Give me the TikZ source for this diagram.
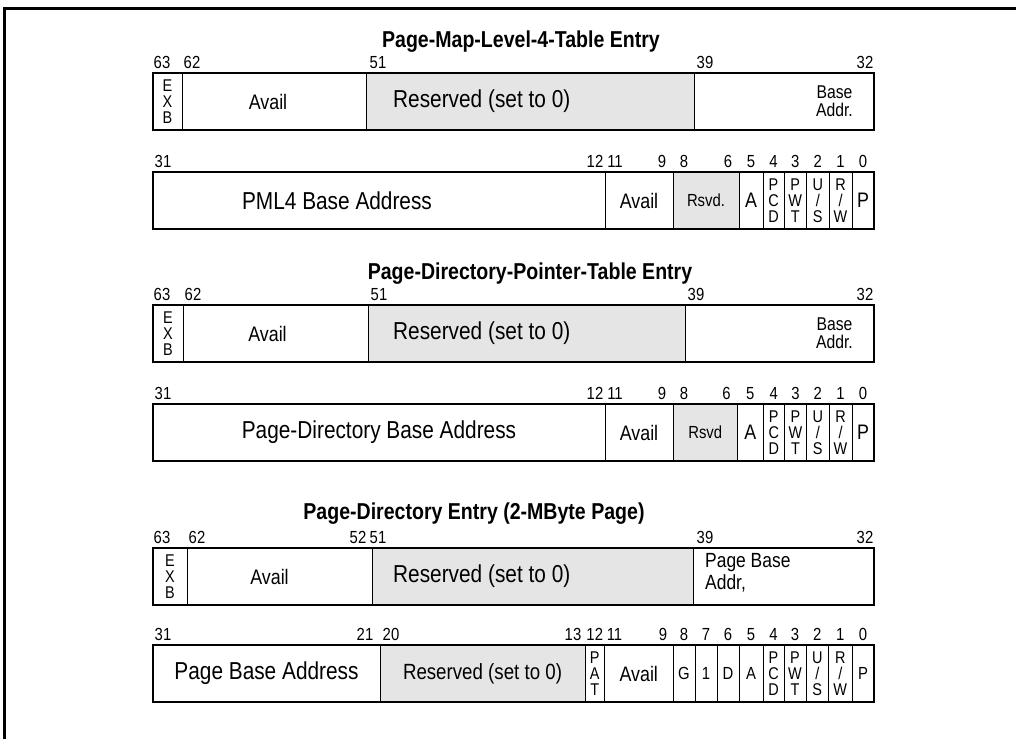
\documentclass[tikz,border=0pt]{standalone}
\usepackage{fontspec}
\setmainfont[FakeStretch=0.85]{Liberation Sans}
\usepackage{xcolor}
\usetikzlibrary{positioning}
\definecolor{rsvgray}{RGB}{229,229,229}
\newcommand{\fs}[1]{\fontsize{#1}{#1}\selectfont}

\begin{document}
\begin{tikzpicture}[x=1pt, y=-1pt,
    fld/.style={rectangle, draw, line width=0.9pt, minimum height=57pt, inner sep=0pt, outer sep=0pt, font=\fs{21}},
    rsv/.style={fld, fill=rsvgray},
    stk/.style={fld, align=center, font=\fontsize{17}{16}\selectfont},
    sml/.style={fld, font=\fs{17.5}},
    big/.style={font=\fs{24.5}, inner sep=0pt},
    box/.style={draw, line width=2.6pt},
    bit/.style={anchor=base, inner sep=0pt, yshift=5pt, font=\fs{17.5}},
    ttl/.style={font=\bfseries\fs{23}}
]
    \useasboundingbox (0,0) rectangle (1016,739);
    \draw[line width=3pt] (4,739) -- (4,8) -- (1016,8);

    % PML4 entry
    \node[ttl] (t1) at (521,42) {Page-Map-Level-4-Table Entry};
    \node[stk, minimum width=29pt, anchor=north west] (exb1) at (153,73) {E\\X\\B};
    \node[fld, minimum width=184pt, right=0pt of exb1] (avl1) {};
    \node[font=\fs{21}, inner sep=0pt] (avl1t) at ([xshift=-6pt]avl1.center) {Avail};
    \node[rsv, minimum width=328pt, right=0pt of avl1] (res1) {};
    \node[big, anchor=west] (res1t) at ([xshift=27pt]res1.west) {Reserved (set to 0)};
    \node[fld, minimum width=180pt, right=0pt of res1] (base1) {};
    \node[align=center, font=\fontsize{18.5}{18}\selectfont, anchor=east, inner sep=0pt] (base1t) at ([xshift=-21pt]base1.east) {Base\\Addr.};
    \draw[box] (exb1.north west) rectangle (base1.south east);
    \node[bit] (l63a) at ([xshift=9pt]exb1.north west) {63};
    \node[bit] (l62a) at ([xshift=10pt]avl1.north west) {62};
    \node[bit] (l51a) at ([xshift=12pt]res1.north west) {51};
    \node[bit] (l39a) at ([xshift=11pt]base1.north west) {39};
    \node[bit] (l32a) at ([xshift=-9pt]base1.north east) {32};

    \node[fld, minimum width=452pt, anchor=north west] (pml2) at (153,172) {};
    \node[big] (pml2t) at ([xshift=-42pt]pml2.center) {PML4 Base Address};
    \node[fld, minimum width=68pt, right=0pt of pml2] (avl2) {Avail};
    \node[rsv, minimum width=66pt, font=\fs{17.5}, right=0pt of avl2] (rsv2) {Rsvd.};
    \node[fld, minimum width=24pt, right=0pt of rsv2] (a2) {A};
    \node[stk, minimum width=21pt, right=0pt of a2] (pcd2) {P\\C\\D};
    \node[stk, minimum width=22.5pt, right=0pt of pcd2] (pwt2) {P\\W\\T};
    \node[stk, minimum width=22.5pt, right=0pt of pwt2] (us2) {U\\/\\S};
    \node[stk, minimum width=23pt, right=0pt of us2] (rw2) {R\\/\\W};
    \node[fld, minimum width=22pt, right=0pt of rw2] (p2) {P};
    \draw[box] (pml2.north west) rectangle (p2.south east);
    \node[bit] (l31b) at ([xshift=10pt]pml2.north west) {31};
    \node[bit] (l12b) at ([xshift=-10pt]pml2.north east) {12};
    \node[bit] (l11b) at ([xshift=10pt]avl2.north west) {11};
    \node[bit] (l9b) at ([xshift=-11pt]avl2.north east) {9};
    \node[bit] (l8b) at ([xshift=11pt]rsv2.north west) {8};
    \node[bit] (l6b) at ([xshift=-11pt]rsv2.north east) {6};
    \foreach \f/\n in {a2/5, pcd2/4, pwt2/3, us2/2, rw2/1, p2/0}
        \node[bit] (l\f) at (\f.north) {\n};

    % PDP entry
    \node[ttl] (t2) at (530,274) {Page-Directory-Pointer-Table Entry};
    \node[stk, minimum width=30pt, anchor=north west] (exb3) at (153,305) {E\\X\\B};
    \node[fld, minimum width=185pt, right=0pt of exb3] (avl3) {};
    \node[font=\fs{21}, inner sep=0pt] (avl3t) at ([xshift=-8pt]avl3.center) {Avail};
    \node[rsv, minimum width=317pt, right=0pt of avl3] (res3) {};
    \node[big, anchor=west] (res3t) at ([xshift=25pt]res3.west) {Reserved (set to 0)};
    \node[fld, minimum width=189pt, right=0pt of res3] (base3) {};
    \node[align=center, font=\fontsize{18.5}{18}\selectfont, anchor=east, inner sep=0pt] (base3t) at ([xshift=-21pt]base3.east) {Base\\Addr.};
    \draw[box] (exb3.north west) rectangle (base3.south east);
    \node[bit] (l63c) at ([xshift=9pt]exb3.north west) {63};
    \node[bit] (l62c) at ([xshift=10pt]avl3.north west) {62};
    \node[bit] (l51c) at ([xshift=11pt]res3.north west) {51};
    \node[bit] (l39c) at ([xshift=11pt]base3.north west) {39};
    \node[bit] (l32c) at ([xshift=-9pt]base3.north east) {32};

    \node[fld, minimum width=452pt, anchor=north west] (pdba4) at (153,404) {};
    \node[big] (pdba4t) at (pdba4.center) {Page-Directory Base Address};
    \node[fld, minimum width=68pt, right=0pt of pdba4] (avl4) {Avail};
    \node[rsv, minimum width=64.5pt, font=\fs{17.5}, right=0pt of avl4] (rsv4) {Rsvd};
    \node[fld, minimum width=25.5pt, right=0pt of rsv4] (a4) {A};
    \node[stk, minimum width=21.5pt, right=0pt of a4] (pcd4) {P\\C\\D};
    \node[stk, minimum width=22pt, right=0pt of pcd4] (pwt4) {P\\W\\T};
    \node[stk, minimum width=22.5pt, right=0pt of pwt4] (us4) {U\\/\\S};
    \node[stk, minimum width=23pt, right=0pt of us4] (rw4) {R\\/\\W};
    \node[fld, minimum width=22pt, right=0pt of rw4] (p4) {P};
    \draw[box] (pdba4.north west) rectangle (p4.south east);
    \node[bit] (l31d) at ([xshift=10pt]pdba4.north west) {31};
    \node[bit] (l12d) at ([xshift=-10pt]pdba4.north east) {12};
    \node[bit] (l11d) at ([xshift=10pt]avl4.north west) {11};
    \node[bit] (l9d) at ([xshift=-11pt]avl4.north east) {9};
    \node[bit] (l8d) at ([xshift=11pt]rsv4.north west) {8};
    \node[bit] (l6d) at ([xshift=-11pt]rsv4.north east) {6};
    \foreach \f/\n in {a4/5, pcd4/4, pwt4/3, us4/2, rw4/1, p4/0}
        \node[bit] (l\f) at (\f.north) {\n};

    % PD entry, 2-MByte page
    \node[ttl] (t3) at (474,514) {Page-Directory Entry (2-MByte Page)};
    \node[stk, minimum width=34pt, anchor=north west] (exb5) at (153,548) {E\\X\\B};
    \node[fld, minimum width=185pt, right=0pt of exb5] (avl5) {};
    \node[font=\fs{21}, inner sep=0pt] (avl5t) at ([xshift=-10pt]avl5.center) {Avail};
    \node[rsv, minimum width=321pt, right=0pt of avl5] (res5) {};
    \node[big, anchor=west] (res5t) at ([xshift=21pt]res5.west) {Reserved (set to 0)};
    \node[fld, minimum width=181pt, right=0pt of res5] (base5) {};
    \node[align=left, font=\fontsize{20.5}{22}\selectfont, anchor=west, inner sep=0pt] (base5t) at ([xshift=12pt,yshift=4pt]base5.west) {Page Base\\Addr,};
    \draw[box] (exb5.north west) rectangle (base5.south east);
    \node[bit] (l63e) at ([xshift=9pt]exb5.north west) {63};
    \node[bit] (l62e) at ([xshift=10pt]avl5.north west) {62};
    \node[bit] (l52e) at ([xshift=-14pt]avl5.north east) {52};
    \node[bit] (l51e) at ([xshift=6pt]res5.north west) {51};
    \node[bit] (l39e) at ([xshift=12pt]base5.north west) {39};
    \node[bit] (l32e) at ([xshift=-9pt]base5.north east) {32};

    \node[fld, minimum width=227pt, font=\fs{24.5}, anchor=north west] (pba6) at (153,645) {Page Base Address};
    \node[rsv, minimum width=205pt, font=\fs{22}, right=0pt of pba6] (res6) {Reserved (set to 0)};
    \node[stk, minimum width=19.5pt, right=0pt of res6] (pat6) {P\\A\\T};
    \node[fld, minimum width=68.5pt, right=0pt of pat6] (avl6) {Avail};
    \node[sml, minimum width=22pt, right=0pt of avl6] (g6) {G};
    \node[sml, minimum width=22pt, right=0pt of g6] (one6) {1};
    \node[sml, minimum width=22pt, right=0pt of one6] (d6) {D};
    \node[sml, minimum width=24pt, right=0pt of d6] (a6) {A};
    \node[stk, minimum width=21pt, right=0pt of a6] (pcd6) {P\\C\\D};
    \node[stk, minimum width=22pt, right=0pt of pcd6] (pwt6) {P\\W\\T};
    \node[stk, minimum width=22.5pt, right=0pt of pwt6] (us6) {U\\/\\S};
    \node[stk, minimum width=23.5pt, right=0pt of us6] (rw6) {R\\/\\W};
    \node[sml, minimum width=22pt, right=0pt of rw6] (p6) {P};
    \draw[box] (pba6.north west) rectangle (p6.south east);
    \node[bit] (l31f) at ([xshift=10pt]pba6.north west) {31};
    \node[bit] (l21f) at ([xshift=-15pt]pba6.north east) {21};
    \node[bit] (l20f) at ([xshift=11pt]res6.north west) {20};
    \node[bit] (l13f) at ([xshift=-12pt]res6.north east) {13};
    \node[bit] (l12f) at (pat6.north) {12};
    \node[bit] (l11f) at ([xshift=10pt]avl6.north west) {11};
    \node[bit] (l9f) at ([xshift=-10pt]avl6.north east) {9};
    \foreach \f/\n in {g6/8, one6/7, d6/6, a6/5, pcd6/4, pwt6/3, us6/2, rw6/1, p6/0}
        \node[bit] (l\f) at (\f.north) {\n};
\end{tikzpicture}
\end{document}
